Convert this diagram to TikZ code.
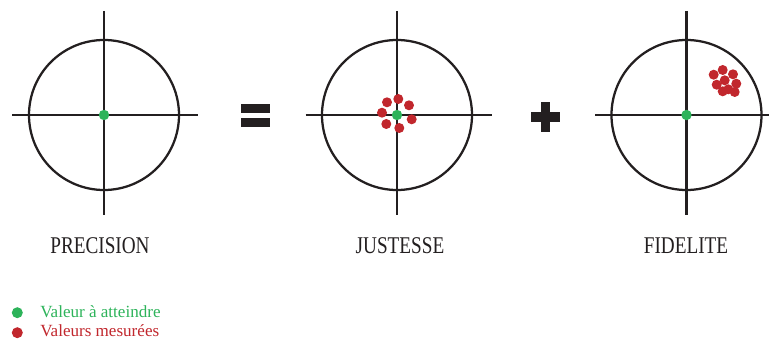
\documentclass[tikz,border=0pt]{standalone}
\usepackage{fontspec}
\setmainfont{Liberation Serif}
\newfontfamily\titrefont[FakeStretch=0.8]{Liberation Serif}
\usetikzlibrary{positioning}
\definecolor{traitCible}{HTML}{231F20}
\definecolor{valeurVert}{HTML}{2DB35A}
\definecolor{valeurRouge}{HTML}{C1272D}

\tikzset{
  cible/.style={traitCible, line width=1.7pt},
  titre/.style={font=\titrefont\fontsize{18pt}{20pt}\selectfont, text=traitCible, anchor=base},
  legende/.style={font=\fontsize{12.8pt}{14pt}\selectfont, anchor=base west, inner sep=0pt}
}

\begin{document}
\begin{tikzpicture}[x=0.75pt, y=-0.75pt]
    \useasboundingbox (0,0) rectangle (769,345);

    % Cibles
    \foreach \cx/\xg/\xd in {104/12/198, 397/305.5/491.5, 686.5/595/769} {
        \draw[cible] (\cx,115) circle (75);
        \draw[cible] (\xg,115) -- (\xd,115);
        \draw[cible] (\cx,11) -- (\cx,215);
    }

    % Valeurs mesurees : justesse
    \foreach \px/\py in {387/102.3, 398.3/99, 409/105.3, 382/112.7, 411.7/119.3, 386.3/124, 399.3/128}
        \fill[valeurRouge] (\px,\py) circle (5);

    % Valeurs mesurees : fidelite
    \foreach \px/\py in {713.7/74.7, 722.7/70, 733/74.3, 724.7/80.3, 716.7/84.7, 736.3/83.7, 722.7/91.3, 728.3/89.3, 734.7/92}
        \fill[valeurRouge] (\px,\py) circle (5);

    % Valeur a atteindre (centres)
    \foreach \cx in {104, 397, 686.5}
        \fill[valeurVert] (\cx,115) circle (5.2);

    % Signes = et +
    \fill[traitCible] (240.5,104) rectangle (269.5,113);
    \fill[traitCible] (240.5,118) rectangle (269.5,127);
    \fill[traitCible] (530.5,112) rectangle (559.5,122);
    \fill[traitCible] (540.5,102) rectangle (549.5,132);

    % Titres
    \node[titre] (precision) at (100,254) {PRECISION};
    \node[titre] (justesse) at (400,254) {JUSTESSE};
    \node[titre] (fidelite) at (686,254) {FIDELITE};

    % Legende
    \fill[valeurVert] (17.3,312.7) circle (5.5);
    \node[legende, text=valeurVert] (atteindre) at (40,318) {Valeur à atteindre};
    \fill[valeurRouge] (17.3,332.7) circle (5.5);
    \node[legende, text=valeurRouge] (mesurees) at (40,336.7) {Valeurs mesurées};
\end{tikzpicture}
\end{document}
